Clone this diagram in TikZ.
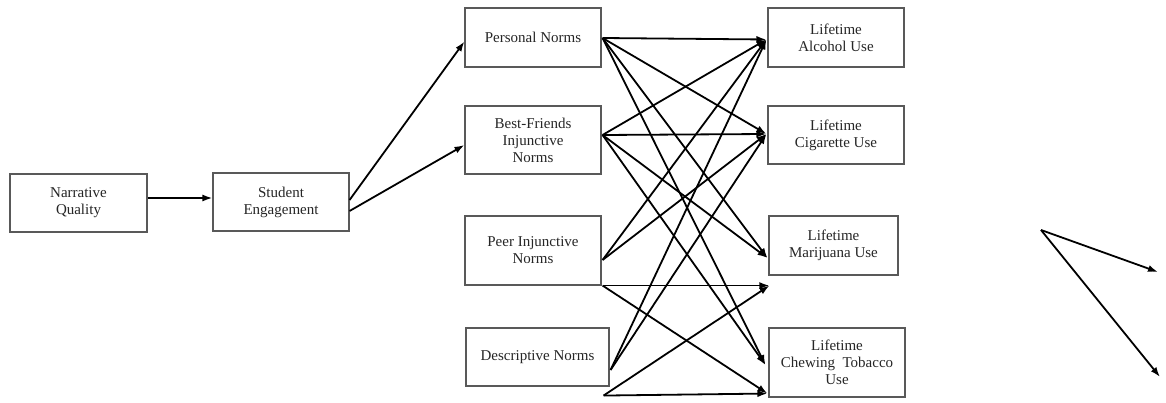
\documentclass[tikz,border=0pt]{standalone}
\usepackage{fontspec}
\setmainfont{Liberation Serif}
\usetikzlibrary{arrows.meta,calc}
\begin{document}
\begin{tikzpicture}[x=1pt,y=-1pt,
  box/.style={draw=black!65, line width=1.1pt, fill=white, align=center, inner sep=2pt,
    text=black!85, font=\fontsize{15}{17}\selectfont},
  arr/.style={line width=1.8pt, -{Latex[length=10pt,width=7pt]}}]
\useasboundingbox (0,0) rectangle (1166,403);
% nodes
\node[box, minimum width=137, minimum height=58] (nq) at (78.5,203) {Narrative\\Quality};
\node[box, minimum width=136, minimum height=58] (se) at (281,202) {Student\\Engagement};
\node[box, minimum width=136, minimum height=59] (pn) at (533,37.5) {Personal Norms};
\node[box, minimum width=136, minimum height=68] (bf) at (533,140) {Best-Friends\\Injunctive\\Norms};
\node[box, minimum width=136, minimum height=69] (pe) at (533,250.5) {Peer Injunctive\\Norms};
\node[box, minimum width=143, minimum height=58] (de) at (537.5,357) {Descriptive Norms};
\node[box, minimum width=136, minimum height=59] (al) at (836,37.5) {Lifetime\\Alcohol Use};
\node[box, minimum width=136, minimum height=58] (ci) at (836,135) {Lifetime\\Cigarette Use};
\node[box, minimum width=129, minimum height=59] (ma) at (833.5,245.5) {Lifetime\\Marijuana Use};
\node[box, minimum width=136, minimum height=69] (to) at (837,362.5) {Lifetime\\Chewing\ \ Tobacco\\Use};
% connector end points
\coordinate (nqE) at ($(nq.east)+(0,-5)$);
\coordinate (seW) at ($(se.west)+(0,-4)$);
\coordinate (seE1) at ($(se.east)+(0,-2)$);
\coordinate (seE2) at ($(se.east)+(0,9)$);
\coordinate (pnW) at ($(pn.west)+(0,4)$);
\coordinate (bfW) at ($(bf.west)+(0,5)$);
\coordinate (pnE) at ($(pn.east)+(1,0.5)$);
\coordinate (bfE) at ($(bf.east)+(1,-5)$);
\coordinate (peE) at ($(pe.east)+(1,9.5)$);
\coordinate (peS) at ($(pe.south east)+(1,0)$);
\coordinate (deE) at ($(de.east)+(1,13)$);
\coordinate (deS) at ($(de.south east)+(-6,9)$);
\coordinate (tA) at ($(al.west)+(-1,2)$);
\coordinate (tC) at ($(ci.west)+(-1,-1)$);
\coordinate (tM) at ($(ma.west)+(-1,12.5)$);
\coordinate (tM2) at ($(ma.south west)+(1,10)$);
\coordinate (tT) at ($(to.west)+(-3,2.5)$);
\coordinate (tT2) at ($(to.south west)+(-1,-4)$);
\coordinate (fx) at (1041,230);
\coordinate (fa) at (1158,272);
\coordinate (fb) at (1160,377);
% connectors
\draw[arr] (nqE) -- (seW);
\draw[arr] (seE1) -- (pnW);
\draw[arr] (seE2) -- (bfW);
\foreach \s in {pnE,bfE}{
  \draw[arr] (\s) -- (tA);
  \draw[arr] (\s) -- (tC);
  \draw[arr] (\s) -- (tM);
  \draw[arr] (\s) -- (tT);
}
\draw[arr] (peE) -- (tA);
\draw[arr] (peE) -- (tC);
\draw[arr] (deE) -- (tA);
\draw[arr] (deE) -- (tC);
\draw[arr] (peS) -- (tM2);
\draw[arr] (peS) -- (tT2);
\draw[arr] (deS) -- (tM2);
\draw[arr] (deS) -- (tT2);
\draw[arr] (fx) -- (fa);
\draw[arr] (fx) -- (fb);
\end{tikzpicture}
\end{document}
